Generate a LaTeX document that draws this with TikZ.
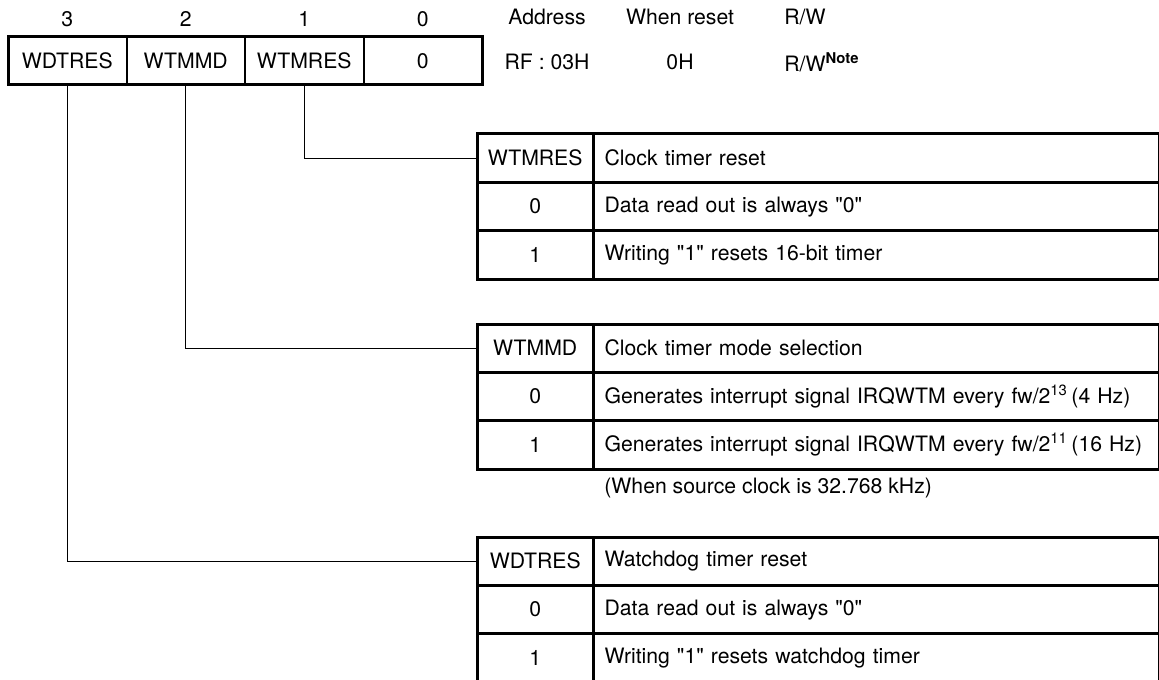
\documentclass[tikz,border=0pt]{standalone}
\usepackage{fontspec}
\setmainfont{TeX Gyre Heros}[Ligatures=TeXOff]
\usetikzlibrary{positioning}
\begin{document}
\begin{tikzpicture}[x=0.5pt,y=-0.5pt,
  every node/.style={font=\fontsize{10.6}{12}\selectfont, inner sep=0pt},
  bitcell/.style={draw, line width=0.5pt, minimum width=58.75pt, minimum height=23.5pt},
  keycell/.style={draw, line width=0.7pt, minimum width=57.5pt, minimum height=23.5pt},
  desccell/.style={draw, line width=0.7pt, text width=272pt, inner xsep=5.25pt,
    align=left, minimum height=23.5pt},
  frame/.style={line width=1.5pt},
  lead/.style={line width=0.5pt}]
  \useasboundingbox (0,0) rectangle (1159,679);
  % register
  \node[bitcell, anchor=north west] (r3) at (8,37) {WDTRES};
  \node[bitcell, right=0pt of r3] (r2) {WTMMD};
  \node[bitcell, right=0pt of r2] (r1) {WTMRES};
  \node[bitcell, right=0pt of r1] (r0) {0};
  \draw[frame] (r3.north west) rectangle (r0.south east);
  \node[above=5pt of r3] (n3) {3};
  \node[above=5pt of r2] (n2) {2};
  \node[above=5pt of r1] (n1) {1};
  \node[above=5pt of r0] (n0) {0};
  \node (addr) at (547,17) {Address};
  \node (rst) at (680,17) {When reset};
  \node[anchor=west] (rw) at (784,17) {R/W};
  \node (addrv) at (547,62) {RF : 03H};
  \node (rstv) at (680,62) {0H};
  \node[anchor=west] (rwv) at (784,62) {R/W\textsuperscript{\bfseries Note}};
  % WTMRES table
  \node[keycell, anchor=north west] (t1k0) at (477,134) {WTMRES};
  \node[desccell, right=0pt of t1k0] (t1d0) {Clock timer reset};
  \node[keycell, below=0pt of t1k0] (t1k1) {0};
  \node[desccell, right=0pt of t1k1] (t1d1) {Data read out is always "0"};
  \node[keycell, below=0pt of t1k1] (t1k2) {1};
  \node[desccell, right=0pt of t1k2] (t1d2) {Writing "1" resets 16-bit timer};
  \draw[frame] (t1k0.north west) rectangle (t1d2.south east);
  % WTMMD table
  \node[keycell, anchor=north west] (t2k0) at (477,324) {WTMMD};
  \node[desccell, right=0pt of t2k0] (t2d0) {Clock timer mode selection};
  \node[keycell, below=0pt of t2k0] (t2k1) {0};
  \node[desccell, right=0pt of t2k1] (t2d1) {Generates interrupt signal IRQWTM every fw/2\textsuperscript{13}\,(4 Hz)};
  \node[keycell, below=0pt of t2k1] (t2k2) {1};
  \node[desccell, right=0pt of t2k2] (t2d2) {Generates interrupt signal IRQWTM every fw/2\textsuperscript{11}\,(16 Hz)};
  \draw[frame] (t2k0.north west) rectangle (t2d2.south east);
  \node[anchor=west] (note) at (604,488) {(When source clock is 32.768 kHz)};
  % WDTRES table
  \node[keycell, anchor=north west] (t3k0) at (477,537) {WDTRES};
  \node[desccell, right=0pt of t3k0] (t3d0) {Watchdog timer reset};
  \node[keycell, below=0pt of t3k0] (t3k1) {0};
  \node[desccell, right=0pt of t3k1] (t3d1) {Data read out is always "0"};
  \node[keycell, below=0pt of t3k1] (t3k2) {1};
  \node[desccell, right=0pt of t3k2] (t3d2) {Writing "1" resets watchdog timer};
  \draw[frame] (t3k0.north west) rectangle (t3d2.south east);
  % leads
  \draw[lead] (r1.south) |- (t1k0.west);
  \draw[lead] (r2.south) |- (t2k0.west);
  \draw[lead] (r3.south) |- (t3k0.west);
\end{tikzpicture}
\end{document}
